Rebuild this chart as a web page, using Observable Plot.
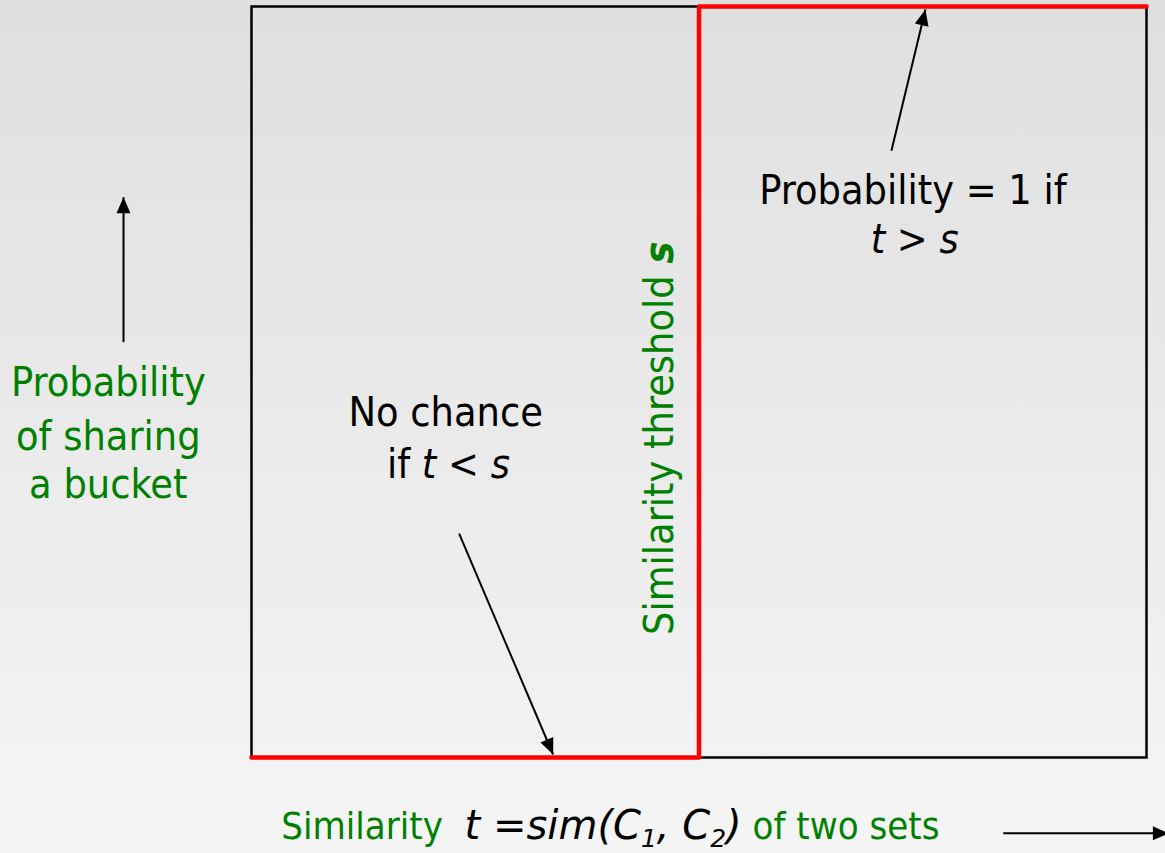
<!DOCTYPE html>
<html>
<head>
<meta charset="utf-8">
<script src="https://cdn.jsdelivr.net/npm/d3@7"></script>
<script src="https://cdn.jsdelivr.net/npm/@observablehq/plot@0.6"></script>
<style>
  html, body { margin: 0; padding: 0; overflow: hidden; }
  body { width: 1165px; height: 853px; background: linear-gradient(to bottom, #dfdfdf 0%, #f5f5f5 100%); }
  svg text { white-space: pre; }
</style>
</head>
<body>
<div id="chart"></div>
<script>
// Step curve: probability of sharing a bucket vs similarity t (threshold s = 0.5)
const similarity = [0, 0.5, 0.5, 1];
const probability = [0, 0, 1, 1];

// Arrows (data coordinates: x = similarity, y = probability)
const arrowX1 = [-0.143, 0.715, 0.232, 0.840];
const arrowY1 = [0.553, 0.808, 0.298, -0.101];
const arrowX2 = [-0.143, 0.753, 0.337, 1.025];
const arrowY2 = [0.746, 0.996, 0.004, -0.101];

// Green axis-like labels
const greenLabels = ["Probability", "of sharing", "a bucket"];
const greenX = [-0.160, -0.160, -0.160];
const greenY = [0.499, 0.427, 0.363];

// Black annotations
const blackLabels = ["No chance", "if t < s", "Probability = 1 if", "t > s"];
const blackX = [0.217, 0.220, 0.739, 0.741];
const blackY = [0.459, 0.390, 0.755, 0.689];

// Vertical threshold label
const vLabel = ["Similarity threshold s"];
const vX = [0.456];
const vY = [0.425];

// Bottom x label
const xLabel = ["Similarity t =sim(C1, C2) of two sets"];
const xLabelX = [0.401];
const xLabelY = [-0.092];

// Rich text segments: [text, color, italic, bold, subscript, wideItalic]
const rich = {
  "if t < s": [["if ", "black", 0, 0, 0, 0], ["t", "black", 1, 0, 0, 0], [" < ", "black", 0, 0, 0, 0], ["s", "black", 1, 0, 0, 0]],
  "t > s": [["t", "black", 1, 0, 0, 0], [" > ", "black", 0, 0, 0, 0], ["s", "black", 1, 0, 0, 0]],
  "Similarity threshold s": [["Similarity threshold ", "green", 0, 0, 0, 0], ["s", "green", 1, 1, 0, 0]],
  "Similarity t =sim(C1, C2) of two sets": [
    ["Similarity  ", "green", 0, 0, 0, 0], ["t =sim(C", "black", 1, 0, 0, 1], ["1", "black", 1, 0, 1, 1],
    [", C", "black", 1, 0, 0, 1], ["2", "black", 1, 0, 1, 1], [")", "black", 1, 0, 0, 1], [" of two sets", "green", 0, 0, 0, 0]
  ]
};

const green = "#008000";
const font = "'DejaVu Sans Condensed', 'DejaVu Sans', sans-serif";

const steps = similarity.map((t, i) => ({t, p: probability[i]}));
const arrows = arrowX1.map((x1, i) => ({x1, y1: arrowY1[i], x2: arrowX2[i], y2: arrowY2[i]}));
const gl = greenLabels.map((s, i) => ({s, x: greenX[i], y: greenY[i]}));
const bl = blackLabels.map((s, i) => ({s, x: blackX[i], y: blackY[i]}));
const vl = vLabel.map((s, i) => ({s, x: vX[i], y: vY[i]}));
const xl = xLabel.map((s, i) => ({s, x: xLabelX[i], y: xLabelY[i]}));

const svg = Plot.plot({
  width: 1165,
  height: 853,
  marginLeft: 251,
  marginRight: 19,
  marginTop: 6,
  marginBottom: 96,
  x: {domain: [0, 1], axis: null},
  y: {domain: [0, 1], axis: null},
  style: {background: "transparent", fontFamily: font, fontStretch: "condensed"},
  marks: [
    Plot.frame({stroke: "black", strokeWidth: 2.5}),
    Plot.line(steps, {x: "t", y: "p", stroke: "#ff0000", strokeWidth: 4.5}),
    Plot.link(arrows, {x1: "x1", y1: "y1", x2: "x2", y2: "y2", stroke: "black", strokeWidth: 2, className: "farrow"}),
    Plot.text(gl, {x: "x", y: "y", text: "s", fill: green, fontSize: 41, textAnchor: "middle"}),
    Plot.text(bl, {x: "x", y: "y", text: "s", fill: "black", fontSize: 41, textAnchor: "middle"}),
    Plot.text(vl, {x: "x", y: "y", text: "s", fill: green, fontSize: 41, rotate: -90, textAnchor: "middle"}),
    Plot.text(xl, {x: "x", y: "y", text: "s", fill: green, fontSize: 38, textAnchor: "middle"})
  ]
});

// Filled arrowheads
const s = d3.select(svg);
const defs = s.insert("defs", ":first-child");
defs.append("marker")
  .attr("id", "fhead")
  .attr("markerUnits", "userSpaceOnUse")
  .attr("viewBox", "-17 -8 18 16")
  .attr("markerWidth", 18)
  .attr("markerHeight", 16)
  .attr("refX", 0)
  .attr("refY", 0)
  .attr("orient", "auto")
  .append("path")
  .attr("d", "M0,0L-16,-7L-16,7Z")
  .attr("fill", "black");
s.selectAll(".farrow path").attr("marker-end", "url(#fhead)");

// Rich text formatting
s.selectAll("text").each(function () {
  const key = this.textContent;
  const segs = rich[key];
  if (!segs) return;
  const t = d3.select(this);
  t.text(null);
  let shifted = 0;
  segs.forEach(([txt, col, it, bd, sub, wide]) => {
    const sp = t.append("tspan").text(txt).attr("fill", col === "green" ? green : col);
    if (it) sp.attr("font-style", "italic");
    if (bd) sp.attr("font-weight", "bold");
    if (wide) sp.style("font-family", "'DejaVu Sans', sans-serif").style("font-stretch", "normal").attr("font-size", 40);
    if (sub) { sp.attr("font-size", 25).attr("dy", 8); shifted = 8; }
    else if (shifted) { sp.attr("dy", -shifted); shifted = 0; }
  });
});

document.getElementById("chart").appendChild(svg);
</script>
</body>
</html>
